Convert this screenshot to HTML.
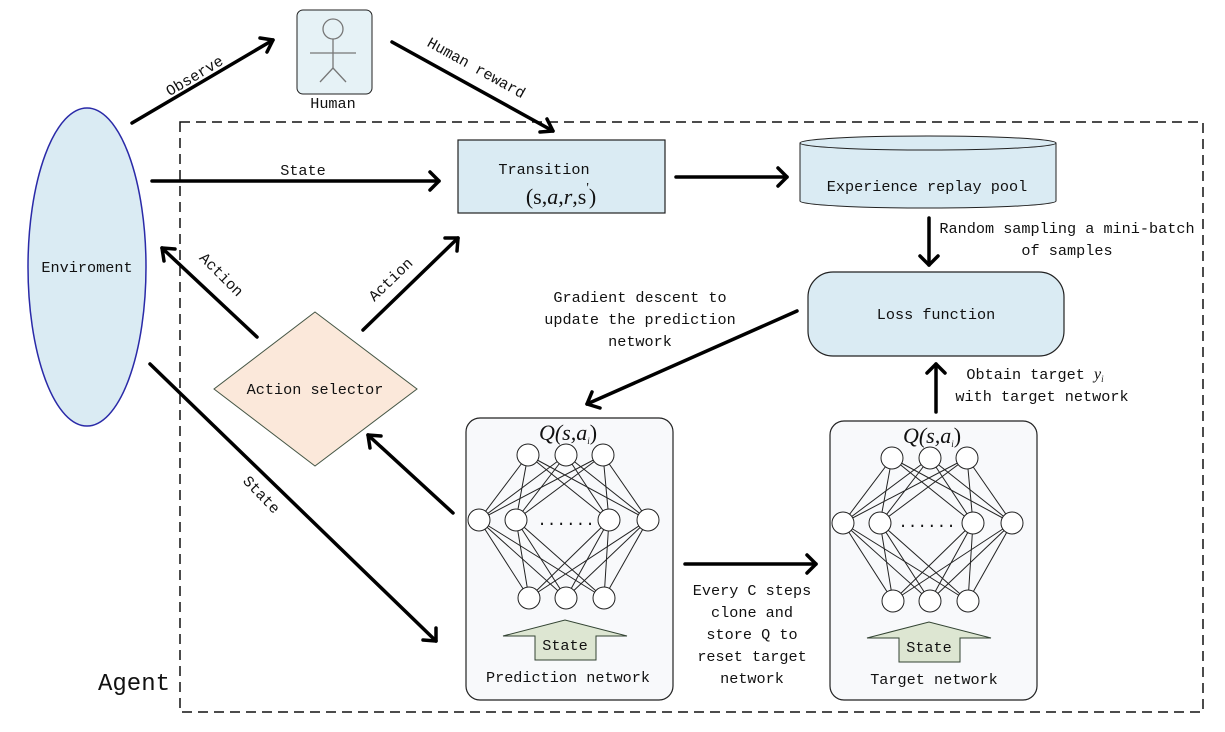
<!DOCTYPE html>
<html><head><meta charset="utf-8"><style>
html,body{margin:0;padding:0;background:#fff}
svg text{font-family:"Liberation Mono","Noto Sans CJK SC",monospace;font-size:15.2px;fill:#111}
</style></head><body>
<svg width="1225" height="727" viewBox="0 0 1225 727" xmlns="http://www.w3.org/2000/svg">
<!-- dashed agent box -->
<rect x="180" y="122" width="1023" height="590" fill="none" stroke="#111" stroke-width="1.5" stroke-dasharray="10,6"/>
<text x="98" y="690" style="font-size:24px">Agent</text>

<!-- Environment -->
<ellipse cx="87" cy="267" rx="59" ry="159" fill="#daebf3" stroke="#2a2aa8" stroke-width="1.5"/>
<text x="87" y="272" text-anchor="middle">Enviroment</text>

<!-- Human -->
<rect x="297" y="10" width="75" height="84" rx="6" fill="#e6f2f6" stroke="#222" stroke-width="1"/>
<circle cx="333" cy="29" r="10" fill="none" stroke="#777" stroke-width="1.3"/>
<line x1="333" y1="39" x2="333" y2="68" stroke="#777" stroke-width="1.3"/>
<line x1="310" y1="53" x2="356" y2="53" stroke="#777" stroke-width="1.3"/>
<line x1="333" y1="68" x2="320" y2="82" stroke="#777" stroke-width="1.3"/>
<line x1="333" y1="68" x2="346" y2="82" stroke="#777" stroke-width="1.3"/>
<text x="333" y="108" text-anchor="middle">Human</text>

<!-- Transition -->
<rect x="458" y="140" width="207" height="73" fill="#daebf3" stroke="#222" stroke-width="1.2"/>
<text x="544" y="174" text-anchor="middle">Transition</text>
<text x="561" y="204" text-anchor="middle" style="font-family:'Liberation Serif',serif;font-size:22px">(s,<tspan font-style="italic">a</tspan>,<tspan font-style="italic">r</tspan>,s<tspan dy="-12" font-size="14">'</tspan><tspan dy="12">)</tspan></text>

<!-- Cylinder -->
<path d="M800,143 L800,201 A128,7 0 0 0 1056,201 L1056,143" fill="#daebf3" stroke="#222" stroke-width="1"/>
<ellipse cx="928" cy="143" rx="128" ry="7" fill="#daebf3" stroke="#222" stroke-width="1"/>
<text x="927" y="191" text-anchor="middle">Experience replay pool</text>

<!-- Loss function -->
<rect x="808" y="272" width="256" height="84" rx="25" fill="#daebf3" stroke="#222" stroke-width="1.2"/>
<text x="936" y="319" text-anchor="middle">Loss function</text>

<!-- Diamond -->
<polygon points="315,312 417,389 315,466 214,389" fill="#fbe8da" stroke="#445544" stroke-width="1"/>
<text x="315" y="394" text-anchor="middle">Action selector</text>

<!-- Networks -->
<rect x="466" y="418" width="207" height="282" rx="14" fill="#f8f9fb" stroke="#222" stroke-width="1.2"/>
<rect x="830" y="421" width="207" height="279" rx="14" fill="#f8f9fb" stroke="#222" stroke-width="1.2"/>
<g stroke="#222" stroke-width="1" fill="none" id="edges"></g>
<g id="nodes"></g>

<text x="568" y="440" text-anchor="middle" style="font-family:'Liberation Serif',serif;font-size:22px;font-style:italic">Q(s,a<tspan font-size="9" dy="4">i</tspan><tspan dy="-4" font-style="normal">)</tspan></text>
<text x="932" y="443" text-anchor="middle" style="font-family:'Liberation Serif',serif;font-size:22px;font-style:italic">Q(s,a<tspan font-size="9" dy="4">i</tspan><tspan dy="-4" font-style="normal">)</tspan></text>
<text x="566" y="525" text-anchor="middle" style="font-size:16px;letter-spacing:0px">......</text>
<text x="927" y="527" text-anchor="middle" style="font-size:16px;letter-spacing:0px">......</text>

<!-- State arrows in nets -->
<polygon points="503,636 565,620 627,636 596,636 596,660 535,660 535,636" fill="#dde6d2" stroke="#334433" stroke-width="1"/>
<text x="565" y="650" text-anchor="middle">State</text>
<polygon points="867,638 929,622 991,638 960,638 960,662 899,662 899,638" fill="#dde6d2" stroke="#334433" stroke-width="1"/>
<text x="929" y="652" text-anchor="middle">State</text>
<text x="568" y="682" text-anchor="middle">Prediction network</text>
<text x="934" y="684" text-anchor="middle">Target network</text>

<!-- arrows -->
<g stroke="#000" stroke-width="3.5" fill="none" stroke-linecap="round" stroke-linejoin="round">
<line x1="132" y1="123" x2="273" y2="40"/><polyline points="260,38 273,40 267,52"/>
<line x1="392" y1="42" x2="553" y2="131"/><polyline points="540,132 553,131 547,119"/>
<line x1="152" y1="181" x2="439" y2="181"/><polyline points="430,172 439,181 430,190"/>
<line x1="676" y1="177" x2="787" y2="177"/><polyline points="778,168 787,177 778,186"/>
<line x1="929" y1="218" x2="929" y2="265"/><polyline points="920,256 929,265 938,256"/>
<line x1="936" y1="412" x2="936" y2="364"/><polyline points="927,373 936,364 945,373"/>
<line x1="797" y1="311" x2="587" y2="404"/><polyline points="592,392 587,404 600,408"/>
<line x1="257" y1="337" x2="162" y2="248"/><polyline points="164,261 162,248 175,249"/>
<line x1="363" y1="330" x2="458" y2="238"/><polyline points="445,238 458,238 457,251"/>
<line x1="453" y1="513" x2="368" y2="435"/><polyline points="370,448 368,435 381,436"/>
<line x1="150" y1="364" x2="436" y2="641"/><polyline points="423,640 436,641 436,628"/>
<line x1="685" y1="564" x2="816" y2="564"/><polyline points="807,555 816,564 807,573"/>
</g>

<!-- labels -->
<text transform="translate(197,80) rotate(-31)" text-anchor="middle">Observe</text>
<text transform="translate(474,72) rotate(29)" text-anchor="middle">Human reward</text>
<text x="303" y="175" text-anchor="middle">State</text>
<text transform="translate(218,278) rotate(45)" text-anchor="middle">Action</text>
<text transform="translate(394,283) rotate(-44)" text-anchor="middle">Action</text>
<text transform="translate(258,498) rotate(46)" text-anchor="middle">State</text>
<text x="1067" y="233" text-anchor="middle">Random sampling a mini-batch</text>
<text x="1067" y="255" text-anchor="middle">of samples</text>
<text x="640" y="302" text-anchor="middle">Gradient descent to</text>
<text x="640" y="324" text-anchor="middle">update the prediction</text>
<text x="640" y="346" text-anchor="middle">network</text>
<text x="1035" y="379" text-anchor="middle">Obtain target <tspan style="font-family:'Liberation Serif',serif;font-style:italic;font-size:16px">y</tspan><tspan style="font-family:'Liberation Serif',serif;font-style:italic;font-size:9px" dy="3">i</tspan></text>
<text x="1042" y="401" text-anchor="middle">with target network</text>
<text x="752" y="595" text-anchor="middle">Every C steps</text>
<text x="752" y="617" text-anchor="middle">clone and</text>
<text x="752" y="639" text-anchor="middle">store Q to</text>
<text x="752" y="661" text-anchor="middle">reset target</text>
<text x="752" y="683" text-anchor="middle">network</text>
</svg>
<script>
(function(){
var ns="http://www.w3.org/2000/svg";
var E=document.getElementById("edges"),N=document.getElementById("nodes");
function net(dx,dy){
 var top=[[528,455],[566,455],[603,455]],mid=[[479,520],[516,520],[609,520],[648,520]],bot=[[529,598],[566,598],[604,598]];
 function sh(a){return a.map(function(p){return [p[0]+dx,p[1]+dy]});}
 top=sh(top);mid=sh(mid);bot=sh(bot);
 function ln(a,b){var l=document.createElementNS(ns,"line");l.setAttribute("x1",a[0]);l.setAttribute("y1",a[1]);l.setAttribute("x2",b[0]);l.setAttribute("y2",b[1]);E.appendChild(l);}
 top.forEach(function(t){mid.forEach(function(m){ln(t,m)})});
 mid.forEach(function(m){bot.forEach(function(b){ln(m,b)})});
 top.concat(mid,bot).forEach(function(p){var c=document.createElementNS(ns,"circle");c.setAttribute("cx",p[0]);c.setAttribute("cy",p[1]);c.setAttribute("r",11);c.setAttribute("fill","#fff");c.setAttribute("stroke","#222");c.setAttribute("stroke-width","1");N.appendChild(c);});
}
net(0,0);net(364,3);
})();
</script>
</body></html>
